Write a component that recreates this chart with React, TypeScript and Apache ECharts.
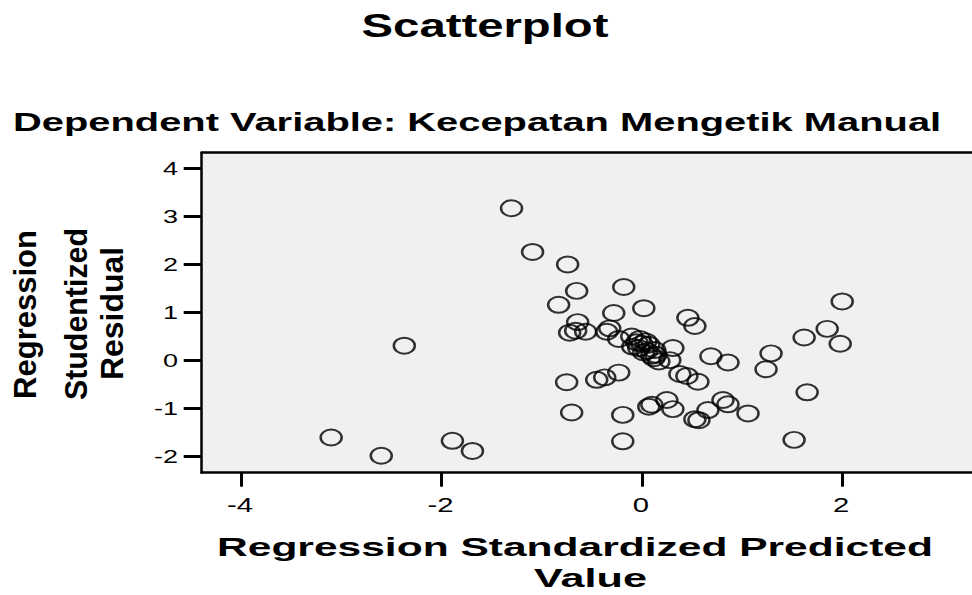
import React, { useEffect, useRef } from "react";
import * as echarts from "echarts";

const chartTitle = "Scatterplot";
const chartSubtitle = "Dependent Variable: Kecepatan Mengetik Manual";
const xAxisTitleLines = ["Regression Standardized Predicted", "Value"];
const yAxisTitleLines = ["Regression", "Studentized", "Residual"];
const xTickValues = [-4, -2, 0, 2];
const yTickValues = [-2, -1, 0, 1, 2, 3, 4];

const predictedValues = [
  -3.10, -2.60, -2.37, -1.89, -1.69, -1.30, -1.09, -0.74, -0.65, -0.83,
  -0.18, 0.02, -0.28, 0.46, 0.53, -0.64, -0.72, -0.66, -0.56, -0.35,
  -0.32, -0.23, -0.10, -0.02, 0.07, -0.09, -0.03, 0.02, 0.10, 0.17,
  0.28, 0.31, 0.38, 0.45, 0.56, 0.69, 0.86, -0.75, -0.45, -0.37,
  -0.23, -0.70, -0.19, -0.19, 0.07, 0.10, 0.25, 0.31, 0.53, 0.57,
  0.66, 0.81, 0.86, 1.06, 1.29, 1.24, 1.62, 1.85, 2.00, 1.98,
  1.65, 1.52, 0.05, 0.12, 0.00, 0.14, 0.04, 0.13, -0.05,
];
const studentizedResiduals = [
  -1.60, -1.98, 0.31, -1.67, -1.88, 3.17, 2.26, 2.00, 1.45, 1.16,
  1.53, 1.09, 0.99, 0.89, 0.72, 0.80, 0.58, 0.62, 0.60, 0.60,
  0.67, 0.45, 0.50, 0.45, 0.33, 0.29, 0.26, 0.17, 0.10, -0.02,
  0.01, 0.26, -0.28, -0.32, -0.44, 0.09, -0.04, -0.45, -0.40, -0.35,
  -0.25, -1.08, -1.13, -1.68, -0.96, -0.92, -0.82, -1.01, -1.22, -1.24,
  -1.03, -0.82, -0.91, -1.10, 0.15, -0.18, 0.48, 0.66, 1.23, 0.35,
  -0.66, -1.65, 0.20, 0.05, 0.35, 0.12, 0.40, 0.22, 0.38,
];

const FONT = "'Liberation Sans', Arial, sans-serif";
const ELLIPSE = "path://M0,8 A10.5,8 0 1,1 21,8 A10.5,8 0 1,1 0,8 Z";
const X_MIN = -4.392;
const X_MAX = 3.395;

type Txt = {
  type: string;
  x: number;
  y: number;
  rotation: number;
  scaleX: number;
  style: Record<string, unknown>;
};

function txt(
  text: string,
  x: number,
  y: number,
  size: number,
  sx: number,
  align: string,
  bold = true,
  rotation = 0
): Txt {
  return {
    type: "text",
    x,
    y,
    rotation,
    scaleX: sx,
    style: {
      text,
      fontFamily: FONT,
      fontWeight: bold ? "bold" : "normal",
      fontSize: size,
      fill: "#000",
      align,
      verticalAlign: "middle",
    },
  };
}

export default function App() {
  const ref = useRef<HTMLDivElement>(null);
  useEffect(() => {
    if (!ref.current) return;
    const chart = echarts.init(ref.current, undefined, { renderer: "svg" });
    const points = predictedValues.map((x, i) => [x, studentizedResiduals[i]]);
    const titles: Txt[] = [
      txt(chartTitle, 485, 25, 34, 1.39, "center"),
      txt(chartSubtitle, 13, 121.2, 26.5, 1.505, "left"),
      txt(xAxisTitleLines[0], 575, 547.5, 26.5, 1.605, "center"),
      txt(xAxisTitleLines[1], 590.5, 578, 26.5, 1.63, "center"),
      txt(yAxisTitleLines[0], 25, 314.5, 31, 1.0, "center", true, Math.PI / 2),
      txt(yAxisTitleLines[1], 76, 314, 31, 0.98, "center", true, Math.PI / 2),
      txt(yAxisTitleLines[2], 112.5, 313.5, 31, 1.03, "center", true, Math.PI / 2),
    ];
    const lineStyle = { color: "#000", width: 2.5 };
    chart.setOption({
      animation: false,
      backgroundColor: "#fff",
      grid: {
        left: 201.7,
        top: 152.7,
        width: 780.3,
        height: 320,
        outerBoundsMode: "none",
        containLabel: false,
        show: true,
        backgroundColor: "#F0F0F0",
        borderWidth: 0,
      },
      xAxis: [
        {
          type: "value",
          position: "bottom",
          min: X_MIN,
          max: X_MAX,
          splitLine: { show: false },
          axisLine: { show: true, onZero: false, lineStyle },
          axisTick: {
            show: true,
            inside: false,
            length: 14,
            customValues: xTickValues,
            lineStyle: { color: "#000", width: 3 },
          },
          axisLabel: { show: false },
        },
        {
          type: "value",
          position: "top",
          min: X_MIN,
          max: X_MAX,
          splitLine: { show: false },
          axisLine: { show: true, onZero: false, lineStyle },
          axisTick: { show: false },
          axisLabel: { show: false },
        },
      ],
      yAxis: {
        type: "value",
        min: -2.333,
        max: 4.325,
        splitLine: { show: false },
        axisLine: { show: true, onZero: false, lineStyle },
        axisTick: {
          show: true,
          inside: false,
          length: 18,
          customValues: yTickValues,
          lineStyle: { color: "#000", width: 3 },
        },
        axisLabel: { show: false },
      },
      graphic: titles,
      series: [
        {
          type: "scatter",
          xAxisIndex: 0,
          yAxisIndex: 0,
          data: points,
          symbol: ELLIPSE,
          symbolSize: [21, 16],
          itemStyle: { color: "rgba(0,0,0,0)", borderColor: "#000", borderWidth: 2.2 },
        },
      ],
    });

    // tick labels placed through the axes' own scales
    const tickLabels: Txt[] = [];
    xTickValues.forEach((v) => {
      const px = chart.convertToPixel({ xAxisIndex: 0 }, v) as number;
      tickLabels.push(txt(String(v), px - 1, 505, 19.5, 1.5, "center", false));
    });
    yTickValues.forEach((v) => {
      const py = chart.convertToPixel({ yAxisIndex: 0 }, v) as number;
      tickLabels.push(txt(String(v), 178, py, 18, 1.5, "right", false));
    });
    chart.setOption({ graphic: [...titles, ...tickLabels] });

    return () => chart.dispose();
  }, []);
  return (
    <div
      ref={ref}
      style={{ position: "fixed", left: 0, top: 0, width: 972, height: 595 }}
    />
  );
}
